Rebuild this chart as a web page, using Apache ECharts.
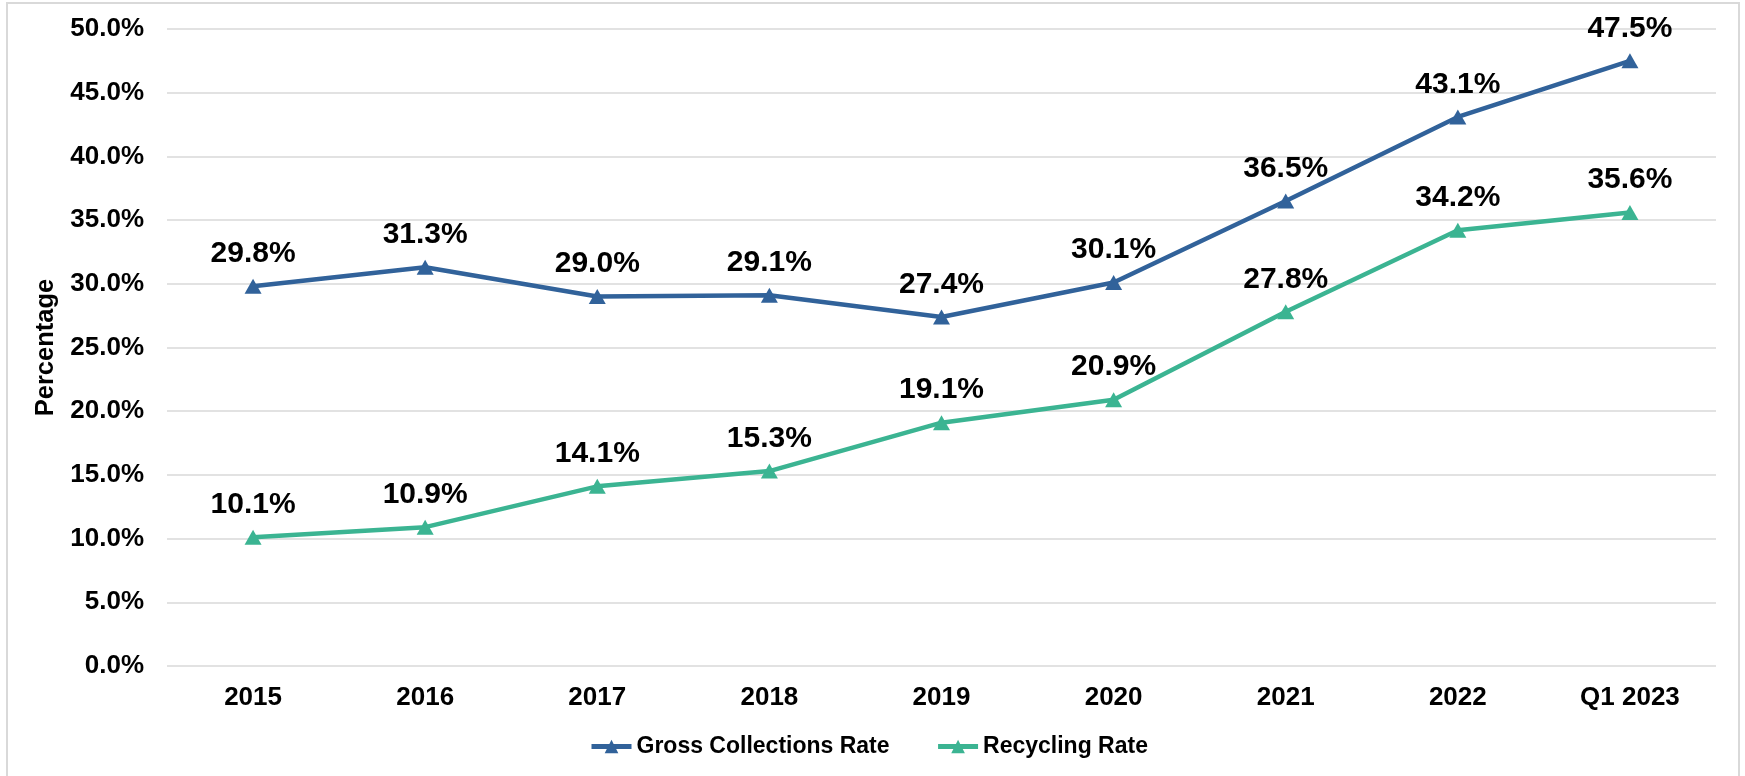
<!DOCTYPE html>
<html>
<head>
<meta charset="utf-8">
<script src="https://cdn.jsdelivr.net/npm/echarts@6/dist/echarts.min.js"></script>
<style>
html,body{margin:0;padding:0;background:#fff;}
#chart{width:1745px;height:776px;}
</style>
</head>
<body>
<div id="chart"></div>
<script>
const categories = ['2015','2016','2017','2018','2019','2020','2021','2022','Q1 2023'];
const grossCollections = [29.8, 31.3, 29.0, 29.1, 27.4, 30.1, 36.5, 43.1, 47.5];
const recyclingRate = [10.1, 10.9, 14.1, 15.3, 19.1, 20.9, 27.8, 34.2, 35.6];
const seriesNames = ['Gross Collections Rate', 'Recycling Rate'];

const FONT = '"Liberation Sans", Arial, sans-serif';
const BLUE = '#31629A';
const GREEN = '#3BB492';

const chart = echarts.init(document.getElementById('chart'), null, {renderer:'canvas'});

function mkSeries(name, data, color) {
  return {
    name: name,
    type: 'line',
    data: data,
    symbol: 'triangle',
    symbolSize: [17, 15],
    lineStyle: {color: color, width: 4.5},
    itemStyle: {color: color},
    label: {
      show: true,
      position: 'top',
      distance: 10,
      formatter: p => p.value.toFixed(1) + '%',
      fontFamily: FONT,
      fontWeight: 'bold',
      fontSize: 30,
      color: '#000'
    },
    animation: false
  };
}

chart.setOption({
  backgroundColor: '#fff',
  animation: false,
  graphic: [{
    type: 'rect',
    shape: {x: 7, y: 3, width: 1732, height: 790},
    style: {fill: 'none', stroke: '#d9d9d9', lineWidth: 2},
    silent: true, z: -1
  }],
  grid: {left: 167, right: 29, top: 29, bottom: 110, containLabel: false},
  xAxis: {
    type: 'category',
    data: categories,
    boundaryGap: true,
    axisLine: {show: false},
    axisTick: {show: false},
    axisLabel: {
      fontFamily: FONT, fontWeight: 'bold', fontSize: 26, color: '#000', margin: 19
    }
  },
  yAxis: {
    type: 'value',
    min: 0, max: 50, interval: 5,
    name: 'Percentage',
    nameLocation: 'middle',
    nameGap: 102,
    nameTextStyle: {fontFamily: FONT, fontWeight: 'bold', fontSize: 25.5, color: '#000'},
    axisLine: {show: false},
    axisTick: {show: false},
    splitLine: {lineStyle: {color: '#d9d9d9', width: 1.5}},
    axisLabel: {
      formatter: v => v.toFixed(1) + '%',
      fontFamily: FONT, fontWeight: 'bold', fontSize: 26, color: '#000', margin: 23
    }
  },
  legend: {
    data: seriesNames,
    left: 584,
    top: 730,
    itemWidth: 40,
    itemHeight: 17,
    itemGap: 46,
    lineStyle: {width: 5},
    textStyle: {fontFamily: FONT, fontWeight: 'bold', fontSize: 23, color: '#000'}
  },
  series: [
    mkSeries(seriesNames[0], grossCollections, BLUE),
    mkSeries(seriesNames[1], recyclingRate, GREEN)
  ]
});
</script>
</body>
</html>
